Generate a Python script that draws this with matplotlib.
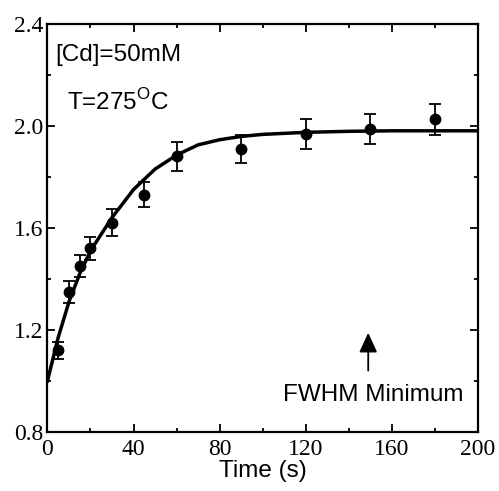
import matplotlib
matplotlib.use('Agg')
import matplotlib.pyplot as plt
from matplotlib.ticker import MultipleLocator

plt.rcParams['mathtext.fontset'] = 'custom'
plt.rcParams['mathtext.rm'] = 'Liberation Sans'

# measured points
time_s = [5, 10, 15, 20, 30, 45, 60, 90, 120, 150, 180]
value = [1.12, 1.35, 1.45, 1.52, 1.62, 1.73, 1.88, 1.91, 1.967, 1.987, 2.025]
err = [0.032, 0.043, 0.043, 0.045, 0.052, 0.05, 0.056, 0.055, 0.06, 0.06, 0.06]

# fitted curve
fit_t = [0, 5, 10, 15, 20, 30, 40, 50, 60, 70, 80, 90, 100, 120, 140, 160, 200]
fit_v = [1.00, 1.17, 1.31, 1.42, 1.51, 1.64, 1.75, 1.83, 1.885, 1.925, 1.945,
         1.958, 1.966, 1.974, 1.978, 1.98, 1.98]

serif = 'Liberation Serif'
sans = 'Liberation Sans'

fig = plt.figure(figsize=(4.99, 4.91), dpi=100)
ax = fig.add_axes([0.095, 0.12, 0.863, 0.832])

ax.plot(fit_t, fit_v, '-', color='black', lw=2.5, zorder=2)
ax.errorbar(time_s, value, yerr=err, fmt='o', color='black', ms=7.5,
            capsize=4.3, elinewidth=1.3, capthick=1.3, zorder=3)

ax.set_xlim(0, 200)
ax.set_ylim(0.8, 2.4)
ax.xaxis.set_major_locator(MultipleLocator(40))
ax.xaxis.set_minor_locator(MultipleLocator(20))
ax.yaxis.set_major_locator(MultipleLocator(0.4))
ax.yaxis.set_minor_locator(MultipleLocator(0.2))
ax.yaxis.set_major_formatter(matplotlib.ticker.FormatStrFormatter('%.1f'))
ax.tick_params(which='both', direction='in', top=True, right=True, width=1.3)
ax.tick_params(which='major', length=6, labelsize=17)
ax.tick_params(axis='x', which='major', pad=5)
ax.tick_params(axis='y', which='major', pad=3)
ax.tick_params(which='minor', length=3)
for lab in ax.get_xticklabels() + ax.get_yticklabels():
	lab.set_fontfamily(serif)
for sp in ax.spines.values():
	sp.set_linewidth(1.6)

ax.set_xlabel('Time (s)', fontfamily=sans, fontsize=17.5, labelpad=0)

ax.text(3.5, 2.277, '[Cd]=50mM', fontfamily=sans, fontsize=17.5, va='center')
ax.text(8.9, 2.094, r'T=275$^{\mathrm{O}}$C', fontfamily=sans, fontsize=17.5, va='center')

ax.annotate('', xy=(149, 1.2), xytext=(149, 1.03),
            arrowprops=dict(arrowstyle='-|>,head_length=1.2,head_width=0.55', color='black', lw=1.3))
ax.text(151.5, 0.945, 'FWHM Minimum', fontfamily=sans, fontsize=17.5, ha='center', va='center')

fig.savefig('out.png', dpi=100)
